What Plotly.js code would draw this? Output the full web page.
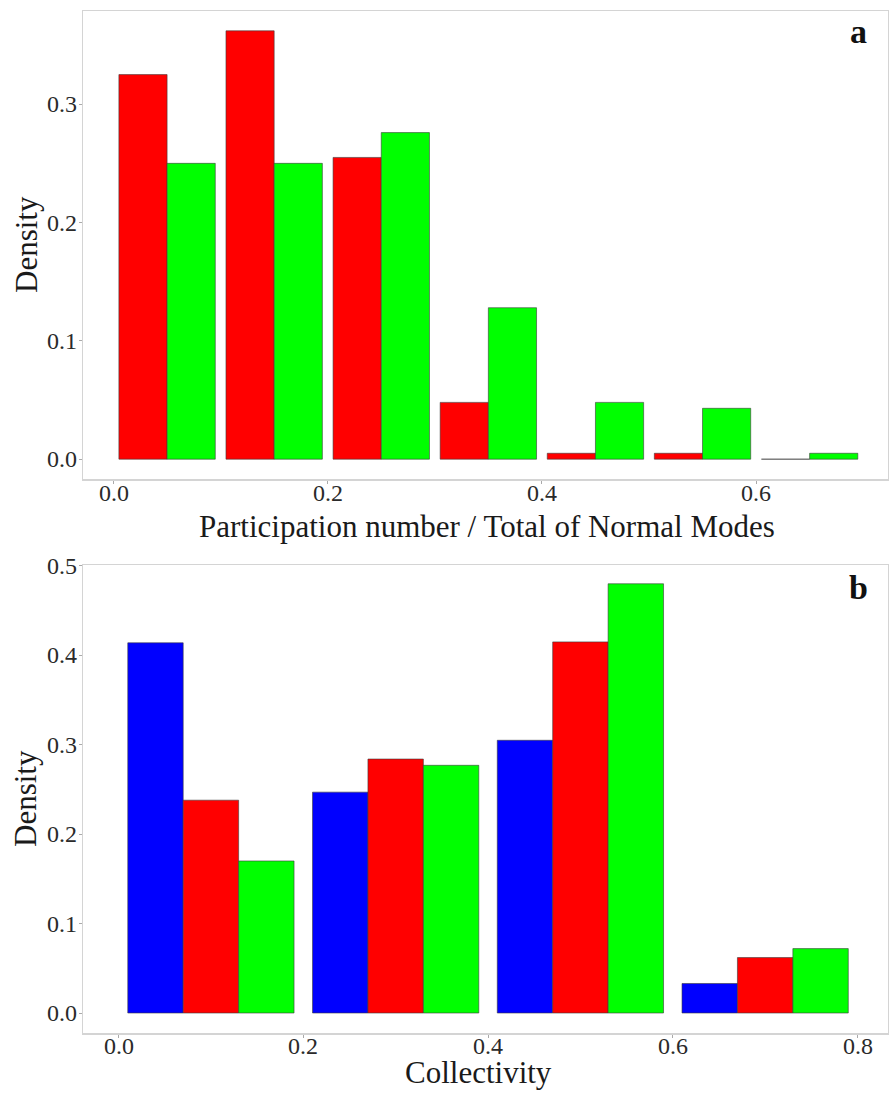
<!DOCTYPE html>
<html>
<head>
<meta charset="utf-8">
<script src="https://cdn.plot.ly/plotly-3.0.1.min.js"></script>
<style>html,body{margin:0;padding:0;background:#fff;}#chart{width:890px;height:1093px;}</style>
</head>
<body>
<div id="chart"></div>
<script>
// Panel a: participation number / total of normal modes (bin centres)
const binsA = [0.05, 0.15, 0.25, 0.35, 0.45, 0.55, 0.65];
const redA = [0.325, 0.362, 0.255, 0.048, 0.005, 0.005, 0];
const greenA = [0.250, 0.250, 0.276, 0.128, 0.048, 0.043, 0.005];
// Panel b: collectivity (bin centres)
const binsB = [0.1, 0.3, 0.5, 0.7];
const blueB = [0.414, 0.247, 0.305, 0.033];
const redB = [0.238, 0.284, 0.415, 0.062];
const greenB = [0.170, 0.277, 0.480, 0.072];
// tick labels
const ticksA = [0.0, 0.2, 0.4, 0.6];
const ticksAy = [0.0, 0.1, 0.2, 0.3];
const ticksB = [0.0, 0.2, 0.4, 0.6, 0.8];
const ticksBy = [0.0, 0.1, 0.2, 0.3, 0.4, 0.5];
// texts
const xTitleA = 'Participation number / Total of Normal Modes';
const xTitleB = 'Collectivity';
const yTitle = 'Density';

const W = 890, H = 1093;
const FONT = '"Liberation Serif", "Times New Roman", serif';
const outline = {color: '#3a3a3a', width: 0.6};
function bar(x, y, color, xa, ya, name) {
  return {type: 'bar', x: x, y: y, name: name, xaxis: xa, yaxis: ya,
    marker: {color: color, line: outline}, showlegend: false, hoverinfo: 'x+y'};
}
const data = [
  bar(binsA, redA, '#ff0000', 'x', 'y', 'red'),
  bar(binsA, greenA, '#00ff00', 'x', 'y', 'green'),
  bar(binsB, blueB, '#0000ff', 'x2', 'y2', 'blue'),
  bar(binsB, redB, '#ff0000', 'x2', 'y2', 'red'),
  bar(binsB, greenB, '#00ff00', 'x2', 'y2', 'green')
];
function fmt(v){ return v.toFixed(1); }
const TITLEFONT = {family: FONT, size: 31, color: '#1a1a1a'};
const TICKFONT = {family: FONT, size: 24, color: '#2a2a2a'};
const axCommon = {
  showline: true, mirror: true, linecolor: '#d4d4d4', linewidth: 1.2,
  showgrid: false, zeroline: false, ticks: 'outside', ticklen: 3, tickcolor: '#aaa',
  tickwidth: 1, showticklabels: false, automargin: false
};
const XD = [82.7/W, 888/W];
function ann(text, px, py, angle) {
  return {text: text, xref: 'paper', yref: 'paper', x: px / W, y: 1 - py / H,
    xanchor: 'center', yanchor: 'middle', textangle: angle || 0, showarrow: false, font: TITLEFONT};
}
function xLabels(ticks, xa, ya, shift) {
  return ticks.map(v => ({text: fmt(v), xref: xa, x: v, yref: ya + ' domain', y: 0,
    xanchor: 'center', yanchor: 'middle', yshift: shift, showarrow: false, font: TICKFONT}));
}
function yLabels(ticks, xa, ya) {
  return ticks.map(v => ({text: fmt(v), xref: xa + ' domain', x: 0, yref: ya, y: v,
    xanchor: 'right', yanchor: 'middle', xshift: -3.5, showarrow: false, font: TICKFONT}));
}
const layout = {
  width: W, height: H,
  margin: {l: 0, r: 0, t: 0, b: 0},
  paper_bgcolor: '#fff', plot_bgcolor: '#fff',
  barmode: 'group', bargap: 0.1, bargroupgap: 0,
  font: {family: FONT, color: '#222'},
  xaxis: Object.assign({}, axCommon, {
    domain: XD, anchor: 'y', range: [-0.0288, 0.7232], tickvals: ticksA
  }),
  yaxis: Object.assign({}, axCommon, {
    domain: [1 - 479.3/H, 1 - 10.7/H], anchor: 'x', range: [-0.017, 0.379], tickvals: ticksAy
  }),
  xaxis2: Object.assign({}, axCommon, {
    domain: XD, anchor: 'y2', range: [-0.0388, 0.833], tickvals: ticksB
  }),
  yaxis2: Object.assign({}, axCommon, {
    domain: [1 - 1033.3/H, 1 - 565/H], anchor: 'x2', range: [-0.0227, 0.501], tickvals: ticksBy
  }),
  annotations: [].concat(
    xLabels(ticksA, 'x', 'y', -13.5),
    yLabels(ticksAy, 'x', 'y'),
    xLabels(ticksB, 'x2', 'y2', -13),
    yLabels(ticksBy, 'x2', 'y2'),
    [
      ann(xTitleA, 487.5, 526),
      {text: xTitleB, xref: 'paper', yref: 'paper', x: 478.6 / W, y: 0, xanchor: 'center', yanchor: 'bottom',
       yshift: 1, showarrow: false, font: TITLEFONT},
      ann(yTitle, 26, 245, -90),
      ann(yTitle, 26, 799, -90),
      {text: '<b>a</b>', xref: 'x domain', yref: 'y domain', x: 0.963, y: 0.955, xanchor: 'center', yanchor: 'middle',
       showarrow: false, font: {family: FONT, size: 34, color: '#111'}},
      {text: '<b>b</b>', xref: 'x2 domain', yref: 'y2 domain', x: 0.963, y: 0.953, xanchor: 'center', yanchor: 'middle',
       showarrow: false, font: {family: FONT, size: 34, color: '#111'}}
    ]
  )
};
Plotly.newPlot('chart', data, layout, {staticPlot: true, displayModeBar: false});
</script>
</body>
</html>
